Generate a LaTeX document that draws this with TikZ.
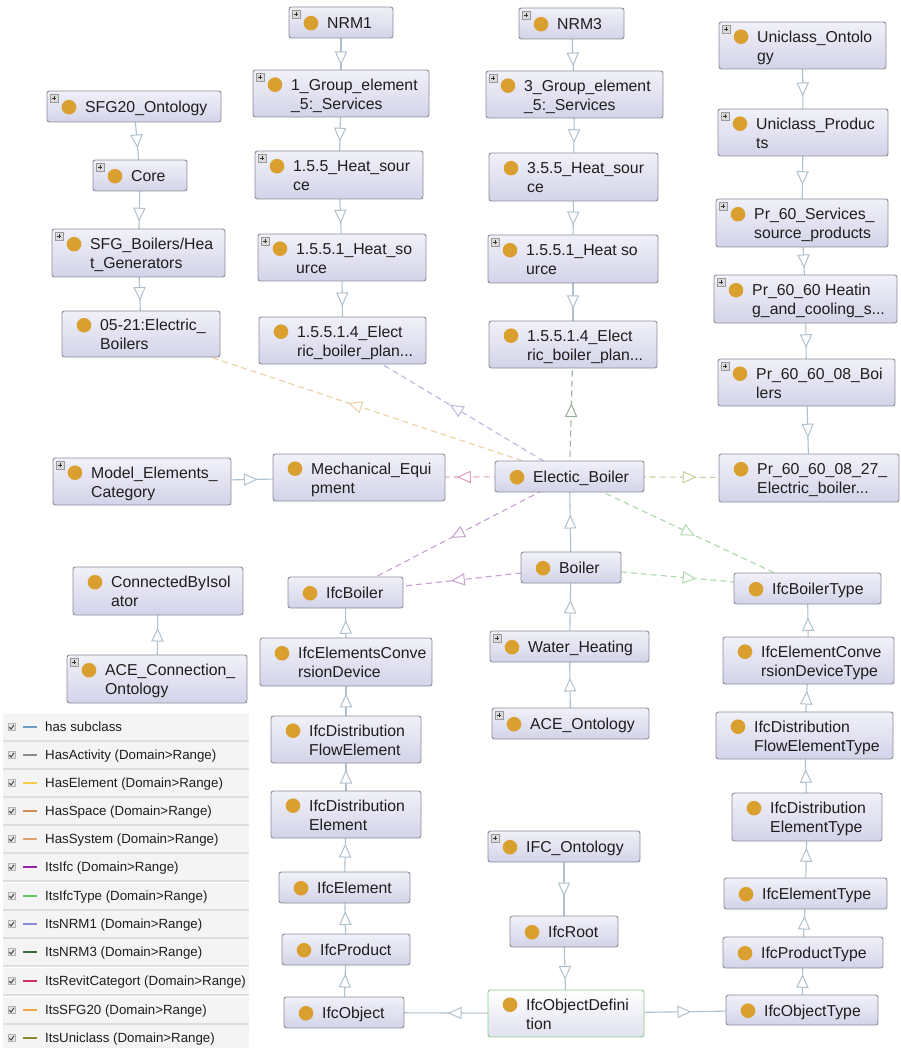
\documentclass[tikz,border=0pt]{standalone}
\usepackage{fontspec}
\setmainfont{Liberation Sans}
\usetikzlibrary{decorations.markings}
\pgfdeclarelayer{edges}
\pgfsetlayers{edges,main}

% class boxes
\definecolor{boxtop}{HTML}{F1F1F9}
\definecolor{boxbot}{HTML}{D3D3E9}
\definecolor{boxline}{HTML}{8C8C99}
\definecolor{dotc}{HTML}{D9A030}
\definecolor{txt}{HTML}{1E1E1E}
\definecolor{odline}{HTML}{8CCB8C}
\definecolor{plusfill}{HTML}{DADADA}
\definecolor{plusline}{HTML}{9A9A9A}
% connectors
\definecolor{subc}{HTML}{AFC1CE}
\definecolor{eSFG}{HTML}{EACFA0}
\definecolor{eNRMa}{HTML}{B8B8DE}
\definecolor{eNRMb}{HTML}{98AE98}
\definecolor{eRevit}{HTML}{E09CBC}
\definecolor{eUni}{HTML}{CACC9E}
\definecolor{eIfcT}{HTML}{ACD8AC}
\definecolor{eIfc}{HTML}{C6A0D0}
% key
\definecolor{lSub}{HTML}{6A9CC6}
\definecolor{lAct}{HTML}{8C8C8C}
\definecolor{lElem}{HTML}{F2CC44}
\definecolor{lSpace}{HTML}{D68A55}
\definecolor{lSys}{HTML}{DDA070}
\definecolor{lIfc}{HTML}{9A22A8}
\definecolor{lIfcT}{HTML}{62C862}
\definecolor{lNRMa}{HTML}{8A8AD8}
\definecolor{lNRMb}{HTML}{3A6A3A}
\definecolor{lRevit}{HTML}{D0306A}
\definecolor{lSFG}{HTML}{F0A840}
\definecolor{lUni}{HTML}{8A8A30}
\definecolor{legbg}{HTML}{F4F4F4}
\definecolor{legsep}{HTML}{DDDDDD}
\definecolor{chkfill}{HTML}{E6E6E6}
\definecolor{chkline}{HTML}{B4B4B4}
\definecolor{chkmark}{HTML}{444444}

\tikzset{
  clsbox/.style={draw=boxline, line width=0.9pt, rounded corners=2.5pt,
    top color=boxtop, bottom color=boxbot, inner sep=0pt, outer sep=0pt},
  selbox/.style={draw=odline, top color=white, bottom color=boxbot!70!white},
  clstext/.style={anchor=base west, inner sep=0pt, text=txt,
    font=\fontsize{15.8}{19}\selectfont},
  legtext/.style={anchor=base west, inner sep=0pt, text=txt,
    font=\fontsize{13.3}{16}\selectfont},
  subedge/.style={draw=subc, line width=1.1pt,
    decoration={markings, mark=at position 0.5 with
      {\draw[subc, solid, fill=white, line width=1pt] (-6,-5.5) -- (6,0) -- (-6,5.5) -- cycle;}},
    postaction={decorate}},
  propedge/.style={draw=#1, line width=1.1pt, dash pattern=on 6pt off 4pt,
    decoration={markings, mark=at position 0.5 with
      {\draw[#1, solid, fill=white, line width=1pt] (-6,-5.5) -- (6,0) -- (-6,5.5) -- cycle;}},
    postaction={decorate}},
}

% \clsbox{name}{x1}{y1}{x2}{y2}{line 1}{line 2}{expand icon 0/1}{extra style}
\newcommand\clsbox[9]{%
  \node[clsbox, #9, minimum width={(#4-#2)*1pt}, minimum height={(#5-#3)*1pt},
        anchor=north west] (#1) at (#2,#3) {};
  \if\relax\detokenize{#7}\relax
    \pgfmathsetmacro\clsbase{(#3+#5)/2+6.3}%
    \node[clstext] (#1-t) at (#2+38,\clsbase) {#6};
  \else
    \pgfmathsetmacro\clsbase{(#3+#5)/2-3.2}%
    \node[clstext] (#1-t) at (#2+38,\clsbase) {\vtop{\hbox{#6}\hbox{#7}}};
  \fi
  \fill[dotc] (#2+22,\clsbase-5.6) circle[radius=7.3pt];
  \ifnum#8=1
    \filldraw[fill=plusfill, draw=plusline, line width=0.5pt]
      ([shift={(3,3)}]#1.north west) rectangle ++(8,8);
    \draw[black!80, line width=0.8pt]
      ([shift={(4.6,7)}]#1.north west) -- ++(4.8,0)
      ([shift={(7,4.6)}]#1.north west) -- ++(0,4.8);
  \fi
}

\begin{document}
\begin{tikzpicture}[x=1pt,y=-1pt]
\useasboundingbox (0,0) rectangle (900,1048);
\begin{pgfonlayer}{edges}
  \fill[white] (0,0) rectangle (900,1048);
\end{pgfonlayer}

% SFG20 branch
\clsbox{sfg}{47}{91}{221}{122}{SFG20\_Ontology}{}{1}{}
\clsbox{core}{93}{160}{187}{191}{Core}{}{1}{}
\clsbox{sfgb}{52}{229}{225}{277}{SFG\_Boilers/Hea}{t\_Generators}{1}{}
\clsbox{eb0521}{62}{311}{220}{357}{05-21:Electric\_}{Boilers}{0}{}

% NRM1 branch
\clsbox{nrm1}{289}{7}{393}{38}{NRM1}{}{1}{}
\clsbox{grp1}{253}{70}{429}{117}{1\_Group\_element}{\_5:\_Services}{1}{}
\clsbox{hs155}{255}{151}{423}{199}{1.5.5\_Heat\_sour}{ce}{1}{}
\clsbox{hs1551}{258}{234}{426}{281}{1.5.5.1\_Heat\_so}{urce}{1}{}
\clsbox{ebp1}{259}{317}{426}{364}{1.5.5.1.4\_Elect}{ric\_boiler\_plan...}{0}{}

% NRM3 branch
\clsbox{nrm3}{519}{8}{624}{39}{NRM3}{}{1}{}
\clsbox{grp3}{486}{71}{663}{118}{3\_Group\_element}{\_5:\_Services}{1}{}
\clsbox{hs355}{489}{153}{658}{201}{3.5.5\_Heat\_sour}{ce}{0}{}
\clsbox{hs1551b}{488}{235}{658}{283}{1.5.5.1\_Heat so}{urce}{1}{}
\clsbox{ebp3}{489}{321}{657}{368}{1.5.5.1.4\_Elect}{ric\_boiler\_plan...}{0}{}

% Uniclass branch
\clsbox{unionto}{719}{22}{886}{69}{Uniclass\_Ontolo}{gy}{1}{}
\clsbox{uniprod}{718}{109}{888}{156}{Uniclass\_Produc}{ts}{1}{}
\clsbox{pr60}{716}{199}{888}{247}{Pr\_60\_Services\_}{source\_products}{1}{}
\clsbox{pr6060}{714}{275}{897}{323}{Pr\_60\_60 Heatin}{g\_and\_cooling\_s...}{1}{}
\clsbox{prb}{718}{359}{895}{406}{Pr\_60\_60\_08\_Boi}{lers}{1}{}
\clsbox{preb}{719}{454}{899}{502}{Pr\_60\_60\_08\_27\_}{Electric\_boiler...}{0}{}

% centre
\clsbox{mec}{53}{458}{231}{505}{Model\_Elements\_}{Category}{1}{}
\clsbox{mech}{273}{454}{445}{501}{Mechanical\_Equi}{pment}{0}{}
\clsbox{elecb}{495}{461}{644}{492}{Electic\_Boiler}{}{0}{}
\clsbox{boiler}{521}{552}{621}{583}{Boiler}{}{0}{}
\clsbox{water}{490}{631}{649}{662}{Water\_Heating}{}{1}{}
\clsbox{ace}{492}{708}{649}{739}{ACE\_Ontology}{}{1}{}
\clsbox{cbi}{73}{567}{243}{615}{ConnectedByIsol}{ator}{0}{}
\clsbox{acec}{67}{655}{247}{703}{ACE\_Connection\_}{Ontology}{1}{}

% IFC element side
\clsbox{ifcb}{288}{577}{403}{608}{IfcBoiler}{}{0}{}
\clsbox{iecd}{260}{638}{432}{686}{IfcElementsConve}{rsionDevice}{0}{}
\clsbox{dfe}{271}{716}{421}{763}{IfcDistribution}{FlowElement}{0}{}
\clsbox{de}{271}{791}{421}{838}{IfcDistribution}{Element}{0}{}
\clsbox{ifce}{279}{872}{410}{903}{IfcElement}{}{0}{}
\clsbox{ifcp}{282}{934}{410}{965}{IfcProduct}{}{0}{}
\clsbox{ifco}{284}{997}{404}{1028}{IfcObject}{}{0}{}

% IFC root
\clsbox{ifcont}{488}{831}{640}{862}{IFC\_Ontology}{}{1}{}
\clsbox{root}{510}{916}{618}{947}{IfcRoot}{}{0}{}
\clsbox{od}{488}{990}{644}{1037}{IfcObjectDefini}{tion}{0}{selbox}

% IFC type side
\clsbox{ifcbt}{734}{573}{881}{604}{IfcBoilerType}{}{0}{}
\clsbox{ecdt}{723}{637}{894}{684}{IfcElementConve}{rsionDeviceType}{0}{}
\clsbox{dfet}{716}{712}{893}{759}{IfcDistribution}{FlowElementType}{0}{}
\clsbox{det}{732}{793}{882}{841}{IfcDistribution}{ElementType}{0}{}
\clsbox{et}{724}{878}{887}{909}{IfcElementType}{}{0}{}
\clsbox{pt}{723}{937}{883}{968}{IfcProductType}{}{0}{}
\clsbox{ot}{726}{995}{878}{1025}{IfcObjectType}{}{0}{}

\begin{pgfonlayer}{edges}
  % has subclass
  \foreach \a/\b in {sfg/core, core/sfgb, sfgb/eb0521,
      nrm1/grp1, grp1/hs155, hs155/hs1551, hs1551/ebp1,
      nrm3/grp3, grp3/hs355, hs355/hs1551b, hs1551b/ebp3,
      unionto/uniprod, uniprod/pr60, pr60/pr6060, pr6060/prb, prb/preb,
      mec/mech, boiler/elecb, water/boiler, ace/water, acec/cbi,
      iecd/ifcb, dfe/iecd, de/dfe, ifce/de, ifcp/ifce, ifco/ifcp,
      od/ifco, od/ot, ifcont/root, root/od,
      ot/pt, pt/et, et/det, det/dfet, dfet/ecdt, ecdt/ifcbt}
    \draw[subedge] (\a.center) -- (\b.center);
  % object properties
  \draw[propedge=eSFG]   (elecb.center) -- (eb0521.center);
  \draw[propedge=eNRMa]  (elecb.center) -- (ebp1.center);
  \draw[propedge=eNRMb]  (elecb.center) -- (ebp3.center);
  \draw[propedge=eRevit] (elecb.center) -- (mech.center);
  \draw[propedge=eUni]   (elecb.center) -- (preb.center);
  \draw[propedge=eIfcT]  (elecb.center) -- (ifcbt.center);
  \draw[propedge=eIfc]   (elecb.center) -- (ifcb.center);
  \draw[propedge=eIfc]   (boiler.center) -- (ifcb.center);
  \draw[propedge=eIfcT]  (boiler.center) -- (ifcbt.center);
\end{pgfonlayer}

% key
\foreach \c/\col/\lab [count=\i] in {
    727/lSub/has subclass,
    755/lAct/HasActivity (Domain>Range),
    783/lElem/HasElement (Domain>Range),
    811/lSpace/HasSpace (Domain>Range),
    839/lSys/HasSystem (Domain>Range),
    867/lIfc/ItsIfc (Domain>Range),
    896/lIfcT/ItsIfcType (Domain>Range),
    924/lNRMa/ItsNRM1 (Domain>Range),
    952/lNRMb/ItsNRM3 (Domain>Range),
    981/lRevit/ItsRevitCategort (Domain>Range),
    1010/lSFG/ItsSFG20 (Domain>Range),
    1038/lUni/ItsUniclass (Domain>Range)} {
  \fill[legbg] (3,\c-13) rectangle (249,\c+13);
  \draw[legsep, line width=2pt] (3,\c+14) -- (249,\c+14);
  \filldraw[fill=chkfill, draw=chkline, line width=0.5pt] (8,\c-3.5) rectangle (15,\c+3.5);
  \draw[chkmark, line width=1pt] (9.3,\c+0.2) -- (11.2,\c+2) -- (14,\c-2.2);
  \draw[\col, line width=2.8pt] (23,\c) -- (37,\c);
  \node[legtext] (key\i) at (45,\c+4.6) {\lab};
}
\end{tikzpicture}
\end{document}
